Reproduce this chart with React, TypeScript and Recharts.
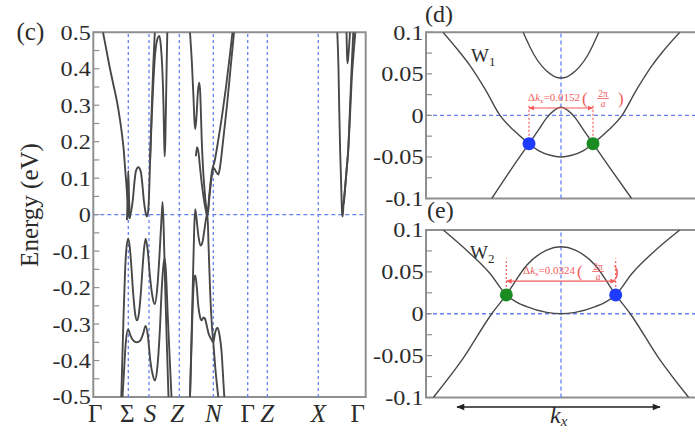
import React from "react";
import {
  LineChart,
  Line,
  XAxis,
  YAxis,
  ReferenceLine,
  ReferenceDot,
  ReferenceArea,
} from "recharts";

type Pt = [number, number];

const SERIF = '"Liberation Serif", "Times New Roman", "DejaVu Serif", serif';
const INK = "#2b2b2b";
const BAND_COLOR = "#484848";
const FRAME_COLOR = "#8f8f8f";
const GUIDE_COLOR = "#6582f2";
const RED = "#f35b5b";
const BLUE = "#1d3cff";
const GREEN = "#1a8c22";

// ---- (c) bands along Γ–Σ–S–Z–N–Γ–Z–X–Γ ----
const PATH_K = [0, 35, 55.7, 86, 120, 154.4, 174, 225, 272.4];
const PATH_LABELS = ["Γ", "Σ", "S", "Z", "N", "Γ", "Z", "X", "Γ"];
const PATH_ITALIC = [false, false, true, true, true, false, true, true, false];
const PATH_SHIFT = [2, -1, 1, -2, 0, 0, 0, 0, -8];
const PATH_GUIDES = [35, 55.7, 86, 120, 154.4, 174, 225];
const ENERGY_TICKS = [
  -0.5, -0.45, -0.4, -0.35, -0.3, -0.25, -0.2, -0.15, -0.1, -0.05, 0, 0.05,
  0.1, 0.15, 0.2, 0.25, 0.3, 0.35, 0.4, 0.45, 0.5,
];

const BAND_C1: Pt[] = [
  [9.7, 0.5], [13.2, 0.45], [16.7, 0.4], [20.2, 0.355], [23.7, 0.31],
  [26.7, 0.26], [28.7, 0.22], [30.5, 0.175], [31.7, 0.13], [32.9, 0.09],
  [33.9, 0.05], [35, 0.01], [36, -0.01], [37, 0.0], [38, 0.012], [39.5, 0.04],
  [41, 0.085], [42.5, 0.118], [45, 0.13], [47.5, 0.118], [49, 0.085],
  [50.5, 0.04], [52, 0.01], [53.3, -0.005], [54.6, 0.005], [55.7, 0.05],
  [56.6, 0.13], [57.6, 0.22], [58.8, 0.32], [60, 0.41], [61.5, 0.5],
];
const BAND_C2: Pt[] = [
  [33.6, -0.015], [34.3, 0.04], [35, 0.12], [35.8, 0.04], [36.6, -0.01],
];
const BAND_C3: Pt[] = [
  [56.8, 0.15], [58.5, 0.27], [60, 0.36], [61.5, 0.43], [63.5, 0.475],
  [66, 0.49], [67.5, 0.465], [69, 0.4], [70.2, 0.3], [70.9, 0.2], [71.4, 0.16],
  [72, 0.2], [72.8, 0.32], [73.5, 0.43], [74, 0.5],
];
const BAND_V1: Pt[] = [
  [28, -0.5], [29, -0.4], [30.2, -0.28], [31.7, -0.16], [33.2, -0.09],
  [35, -0.066], [36.5, -0.09], [38, -0.14], [40, -0.22], [42, -0.275],
  [43.7, -0.29], [45.4, -0.275], [47.4, -0.22], [49.4, -0.14], [50.9, -0.09],
  [52.4, -0.066], [54.5, -0.1], [56.7, -0.17], [59.2, -0.225], [61.5, -0.245],
  [64, -0.2], [66.2, -0.11], [68, -0.02], [69.3, 0.035], [70.5, -0.05],
  [71.9, -0.2], [73.5, -0.35], [75.2, -0.5],
];
const BAND_V2: Pt[] = [
  [29.2, -0.5], [30.7, -0.43], [32.5, -0.35], [34.8, -0.315], [37, -0.33],
  [40, -0.345], [43.5, -0.35], [47, -0.345], [50, -0.325], [52.2, -0.305],
  [54.5, -0.33], [57, -0.4], [59.5, -0.44], [61.5, -0.455], [64, -0.42],
  [66.5, -0.32], [68.5, -0.2], [70.3, -0.135], [71.4, -0.12], [72.5, -0.15],
  [74.5, -0.28], [76.5, -0.4], [78.2, -0.5],
];
const BAND_P1: Pt[] = [
  [96.7, 0.5], [98.7, 0.41], [100.2, 0.32], [101.2, 0.255], [102, 0.235],
  [103.2, 0.27], [104.7, 0.34], [106, 0.362], [107, 0.33], [107.7, 0.27],
  [108.5, 0.2], [109.7, 0.13], [111.2, 0.07], [112.7, 0.025], [114.2, 0.005],
  [116.2, 0.06], [118.7, 0.12], [121.2, 0.145], [124.7, 0.2], [128.7, 0.27],
  [132.7, 0.35], [136.7, 0.44], [139.2, 0.5],
];
const BAND_P2: Pt[] = [
  [102.6, 0.16], [103.7, 0.185], [105.2, 0.17], [106.7, 0.13], [108.7, 0.08],
  [110.7, 0.04], [112.7, 0.01], [114.2, -0.005], [116.2, 0.05], [118.7, 0.11],
  [120.5, 0.128], [122.7, 0.118], [125, 0.11], [126.7, 0.13], [129.7, 0.2],
  [133.7, 0.3], [137.2, 0.4], [140.7, 0.5],
];
const BAND_V4: Pt[] = [
  [96.7, -0.5], [98.2, -0.34], [99.7, -0.17], [100.9, -0.04], [101.9, 0.015],
  [103.2, -0.01], [105.2, -0.06], [107.2, -0.085], [109.2, -0.075],
  [111.2, -0.04], [113.2, -0.005], [114.2, 0.0], [115.2, -0.08], [116.7, -0.2],
  [118.5, -0.3], [120, -0.35], [122, -0.42], [125, -0.5],
];
const BAND_V5: Pt[] = [
  [96.7, -0.5], [98.5, -0.33], [100, -0.21], [101, -0.172], [102, -0.167],
  [103.2, -0.19], [105, -0.25], [106.7, -0.28], [108.4, -0.29], [110.2, -0.282],
  [111.7, -0.285], [113.5, -0.305], [115.2, -0.325], [117.7, -0.34],
  [120, -0.35], [121.7, -0.325], [124.2, -0.31], [126.2, -0.33], [128.4, -0.38],
  [129.7, -0.44], [131, -0.5],
];
const BAND_R1: Pt[] = [
  [244, 0.5], [245.2, 0.4], [246, 0.28], [246.9, 0.17], [247.7, 0.1],
  [248.3, 0.04], [248.9, 0.0], [249.4, -0.005], [250, 0.02], [251.7, 0.07],
  [253.4, 0.125], [255, 0.18], [256.7, 0.27], [258.4, 0.37], [260.5, 0.45],
  [262, 0.5],
];
const BAND_R2: Pt[] = [
  [250.5, 0.03], [252, 0.08], [253.5, 0.13], [255, 0.18], [256.5, 0.28],
  [258.3, 0.4], [260, 0.5],
];
const BAND_R3: Pt[] = [
  [253.2, 0.5], [253.7, 0.44], [254.2, 0.415], [255.2, 0.44], [256.7, 0.5],
];

const PATH_BANDS = [
  BAND_C1, BAND_C2, BAND_C3, BAND_V1, BAND_V2, BAND_P1, BAND_P2, BAND_V4,
  BAND_V5, BAND_R1, BAND_R2, BAND_R3,
];

// ---- (d) W1 and (e) W2 along kx ----
const WEYL_TICKS = [-0.1, -0.075, -0.05, -0.025, 0, 0.025, 0.05, 0.075, 0.1];

const W1_TOP: Pt[] = [
  [-0.28, 0.1], [-0.2, 0.073], [-0.14, 0.059], [-0.08, 0.05], [-0.04, 0.046],
  [0, 0.045], [0.04, 0.046], [0.08, 0.05], [0.14, 0.059], [0.2, 0.073],
  [0.28, 0.1],
];
const W1_OUTER: Pt[] = [
  [-0.874, 0.1], [-0.75, 0.076], [-0.674, 0.06], [-0.56, 0.031], [-0.452, 0.0],
  [-0.35, -0.018], [-0.237, -0.034], [-0.16, -0.043], [-0.08, -0.048],
  [0, -0.05], [0.08, -0.048], [0.16, -0.043], [0.237, -0.034], [0.35, -0.018],
  [0.452, 0.0], [0.56, 0.031], [0.674, 0.06], [0.75, 0.076], [0.88, 0.1],
];
const W1_INNER: Pt[] = [
  [-0.513, -0.1], [-0.353, -0.061], [-0.237, -0.034], [-0.16, -0.016],
  [-0.106, -0.003], [-0.05, 0.006], [0, 0.01], [0.05, 0.006], [0.106, -0.003],
  [0.16, -0.016], [0.237, -0.034], [0.353, -0.061], [0.523, -0.1],
];
const W1_NODES = { left: [-0.237, -0.034] as Pt, right: [0.237, -0.034] as Pt };

const W2_LOWER: Pt[] = [
  [-0.872, 0.1], [-0.674, 0.072], [-0.526, 0.048], [-0.405, 0.0225],
  [-0.33, 0.014], [-0.254, 0.0085], [-0.106, 0.0016], [0, 0], [0.106, 0.0016],
  [0.254, 0.0085], [0.33, 0.014], [0.405, 0.0225], [0.526, 0.048],
  [0.674, 0.072], [0.88, 0.1],
];
const W2_UPPER: Pt[] = [
  [-0.946, -0.1], [-0.724, -0.053], [-0.513, 0.0], [-0.405, 0.0225],
  [-0.254, 0.058], [-0.106, 0.076], [0, 0.08], [0.106, 0.076], [0.254, 0.058],
  [0.405, 0.0225], [0.513, 0.0], [0.724, -0.053], [0.946, -0.1],
];
const W2_NODES = { left: [-0.405, 0.0225] as Pt, right: [0.405, 0.0225] as Pt };

const rows = (pts: Pt[]) => pts.map(([k, e]) => ({ k, e }));

const fmt = (v: number) => {
  const r = Math.round(v * 1000) / 1000;
  return r === 0 ? "0" : String(r);
};

function makeYTick(step: number) {
  return function YTick(props: any) {
    const { x, y, payload } = props;
    const v = payload.value as number;
    const labelled = Math.abs(v / step - Math.round(v / step)) < 1e-6;
    return (
      <g>
        <line x1={x} y1={y} x2={x + 6} y2={y} stroke={FRAME_COLOR} strokeWidth={1.2} />
        {labelled && (
          <g transform={`translate(${x - 2.5},${y}) scale(1.1,1)`}>
            <text x={0} y={0} dy="0.34em" textAnchor="end" fontFamily={SERIF} fontSize={22} fill={INK}>
              {fmt(v)}
            </text>
          </g>
        )}
      </g>
    );
  };
}

function PathTick(props: any) {
  const { x, y, payload } = props;
  const i = PATH_K.findIndex((k) => Math.abs(k - payload.value) < 0.01);
  if (i < 0) return null;
  return (
    <text
      x={x + PATH_SHIFT[i]}
      y={y + 25}
      textAnchor="middle"
      fontFamily={SERIF}
      fontSize={25}
      fontStyle={PATH_ITALIC[i] ? "italic" : "normal"}
      fill={INK}
    >
      {PATH_LABELS[i]}
    </text>
  );
}

const arrowShape = (color: string, marker: string, width: number) => (p: any) => (
  <line
    x1={p.x1}
    y1={p.y1}
    x2={p.x2}
    y2={p.y2}
    stroke={color}
    strokeWidth={width}
    markerStart={`url(#${marker})`}
    markerEnd={`url(#${marker})`}
  />
);

const deltaShape = (value: string) => (p: any) => {
  const x = p.cx;
  const y = p.cy;
  const px = x + 54;
  return (
    <g fill={RED} fontFamily={SERIF}>
      <text x={x} y={y} fontSize={11}>
        Δ<tspan fontStyle="italic">k</tspan>
        <tspan fontSize={7} dy={2}>x</tspan>
        <tspan dy={-2}>={value}</tspan>
      </text>
      <text x={px} y={y + 3} fontSize={17}>(</text>
      <text x={px + 21} y={y - 4} fontSize={9.5} textAnchor="middle">2π</text>
      <line x1={px + 15} x2={px + 27} y1={y - 2.5} y2={y - 2.5} stroke={RED} strokeWidth={0.8} />
      <text x={px + 21} y={y + 6} fontSize={9.5} fontStyle="italic" textAnchor="middle">a</text>
      <text x={px + 36} y={y + 3} fontSize={17}>)</text>
    </g>
  );
};

const nameShape = (sub: string) => (p: any) => (
  <text x={p.cx} y={p.cy} fontFamily={SERIF} fontSize={19} fill={INK}>
    W<tspan fontSize={13} dy={4}>{sub}</tspan>
  </text>
);

const kxShape = (p: any) => (
  <text x={p.cx} y={p.cy} fontFamily={SERIF} fontSize={24} fontStyle="italic" fill={INK}>
    k<tspan fontSize={15} dy={3}>x</tspan>
  </text>
);

function BandPanel() {
  return (
    <div style={{ position: "absolute", left: 0, top: 0 }}>
      <LineChart width={370} height={433} margin={{ top: 32.3, right: 4.3, bottom: 6, left: 33.3 }}>
        <XAxis
          dataKey="k"
          type="number"
          domain={[0, 272.4]}
          ticks={PATH_K}
          interval={0}
          tick={<PathTick />}
          tickLine={false}
          axisLine={false}
          tickSize={0}
          tickMargin={0}
          height={30}
          allowDataOverflow
        />
        <YAxis
          type="number"
          domain={[-0.5, 0.5]}
          ticks={ENERGY_TICKS}
          interval={0}
          tick={makeYTick(0.1)}
          tickLine={false}
          axisLine={false}
          tickSize={0}
          tickMargin={0}
          width={60}
          allowDataOverflow
        />
        {PATH_GUIDES.map((k) => (
          <ReferenceLine key={k} x={k} stroke={GUIDE_COLOR} strokeWidth={1.3} strokeDasharray="3 3" />
        ))}
        <ReferenceLine y={0} stroke={GUIDE_COLOR} strokeWidth={1.3} strokeDasharray="4 3" />
        {PATH_BANDS.map((b, i) => (
          <Line
            key={i}
            data={rows(b)}
            dataKey="e"
            type="monotone"
            stroke={BAND_COLOR}
            strokeWidth={1.9}
            dot={false}
            activeDot={false}
            isAnimationActive={false}
          />
        ))}
        <ReferenceArea x1={0} x2={272.4} y1={-0.5} y2={0.5} fill="none" stroke={FRAME_COLOR} strokeWidth={2} />
      </LineChart>
    </div>
  );
}

type WeylProps = {
  top: number;
  height: number;
  marginTop: number;
  marginBottom: number;
  bands: Pt[][];
  nodes: { left: Pt; right: Pt };
  leftColor: string;
  rightColor: string;
  guideTop: number;
  arrowE: number;
  delta: string;
  textAt: Pt;
  name: string;
  nameAt: Pt;
  showKx?: boolean;
};

function WeylPanel(p: WeylProps) {
  const [lk, le] = p.nodes.left;
  const [rk, re] = p.nodes.right;
  return (
    <div style={{ position: "absolute", left: 366, top: p.top }}>
      <LineChart
        width={334}
        height={p.height}
        margin={{ top: p.marginTop, right: 4, bottom: p.marginBottom, left: 0 }}
      >
        <XAxis dataKey="k" type="number" domain={[-1, 1]} hide allowDataOverflow />
        <YAxis
          type="number"
          domain={[-0.1, 0.1]}
          ticks={WEYL_TICKS}
          interval={0}
          tick={makeYTick(0.05)}
          tickLine={false}
          axisLine={false}
          tickSize={0}
          tickMargin={0}
          width={60}
          allowDataOverflow
        />
        <ReferenceLine x={0} stroke={GUIDE_COLOR} strokeWidth={1.3} strokeDasharray="4 3" />
        <ReferenceLine y={0} stroke={GUIDE_COLOR} strokeWidth={1.3} strokeDasharray="4 3" />
        {p.bands.map((b, i) => (
          <Line
            key={i}
            data={rows(b)}
            dataKey="e"
            type="monotone"
            stroke={BAND_COLOR}
            strokeWidth={1.4}
            dot={false}
            activeDot={false}
            isAnimationActive={false}
          />
        ))}
        <ReferenceLine
          segment={[{ x: lk, y: le }, { x: lk, y: p.guideTop }]}
          stroke={RED}
          strokeWidth={1.2}
          strokeDasharray="2 2"
        />
        <ReferenceLine
          segment={[{ x: rk, y: re }, { x: rk, y: p.guideTop }]}
          stroke={RED}
          strokeWidth={1.2}
          strokeDasharray="2 2"
        />
        <ReferenceLine
          segment={[{ x: lk, y: p.arrowE }, { x: rk, y: p.arrowE }]}
          shape={arrowShape(RED, "head-red", 1.2)}
        />
        <ReferenceDot x={p.textAt[0]} y={p.textAt[1]} r={0} shape={deltaShape(p.delta)} />
        <ReferenceDot x={p.nameAt[0]} y={p.nameAt[1]} r={0} shape={nameShape(p.name)} />
        <ReferenceDot x={lk} y={le} r={6.5} fill={p.leftColor} stroke="none" />
        <ReferenceDot x={rk} y={re} r={6.5} fill={p.rightColor} stroke="none" />
        {p.showKx && (
          <ReferenceLine
            segment={[{ x: -0.77, y: -0.1113 }, { x: 0.733, y: -0.1113 }]}
            ifOverflow="visible"
            shape={arrowShape("#222", "head-black", 1.5)}
          />
        )}
        {p.showKx && (
          <ReferenceDot x={-0.081} y={-0.1305} r={0} ifOverflow="visible" shape={kxShape} />
        )}
        <ReferenceArea x1={-1} x2={1} y1={-0.1} y2={0.1} fill="none" stroke={FRAME_COLOR} strokeWidth={2} />
      </LineChart>
    </div>
  );
}

export default function App() {
  return (
    <div
      style={{
        position: "absolute",
        left: 0,
        top: 0,
        width: 695,
        height: 433,
        overflow: "hidden",
        background: "#fff",
      }}
    >
      <svg width={0} height={0} style={{ position: "absolute" }}>
        <defs>
          <marker
            id="head-red"
            viewBox="0 0 10 10"
            refX="9"
            refY="5"
            markerWidth="6"
            markerHeight="6"
            markerUnits="userSpaceOnUse"
            orient="auto-start-reverse"
          >
            <path d="M0,1 L10,5 L0,9 z" fill={RED} />
          </marker>
          <marker
            id="head-black"
            viewBox="0 0 10 10"
            refX="9"
            refY="5"
            markerWidth="10"
            markerHeight="8"
            markerUnits="userSpaceOnUse"
            orient="auto-start-reverse"
          >
            <path d="M0,1 L10,5 L0,9 z" fill="#222" />
          </marker>
        </defs>
      </svg>
      <BandPanel />
      <WeylPanel
        top={0}
        height={210}
        marginTop={32.3}
        marginBottom={11.5}
        bands={[W1_TOP, W1_OUTER, W1_INNER]}
        nodes={W1_NODES}
        leftColor={BLUE}
        rightColor={GREEN}
        guideTop={0.013}
        arrowE={0.0089}
        delta="0.0152"
        textAt={[-0.244, 0.0173]}
        name="1"
        nameAt={[-0.667, 0.0643]}
      />
      <WeylPanel
        top={200}
        height={233}
        marginTop={30}
        marginBottom={35.5}
        bands={[W2_LOWER, W2_UPPER]}
        nodes={W2_NODES}
        leftColor={GREEN}
        rightColor={BLUE}
        guideTop={0.066}
        arrowE={0.039}
        delta="0.0324"
        textAt={[-0.281, 0.0475]}
        name="2"
        nameAt={[-0.674, 0.0654]}
        showKx
      />
      <svg
        width={695}
        height={433}
        style={{ position: "absolute", left: 0, top: 0, pointerEvents: "none" }}
        fontFamily={SERIF}
        fill={INK}
      >
        <text x={16.5} y={40} fontSize={25}>(c)</text>
        <text x={425} y={22} fontSize={24}>(d)</text>
        <text x={427} y={218} fontSize={24}>(e)</text>
        <text x={38} y={205} fontSize={25} textAnchor="middle" transform="rotate(-90 38 205)">
          Energy (eV)
        </text>
      </svg>
    </div>
  );
}
